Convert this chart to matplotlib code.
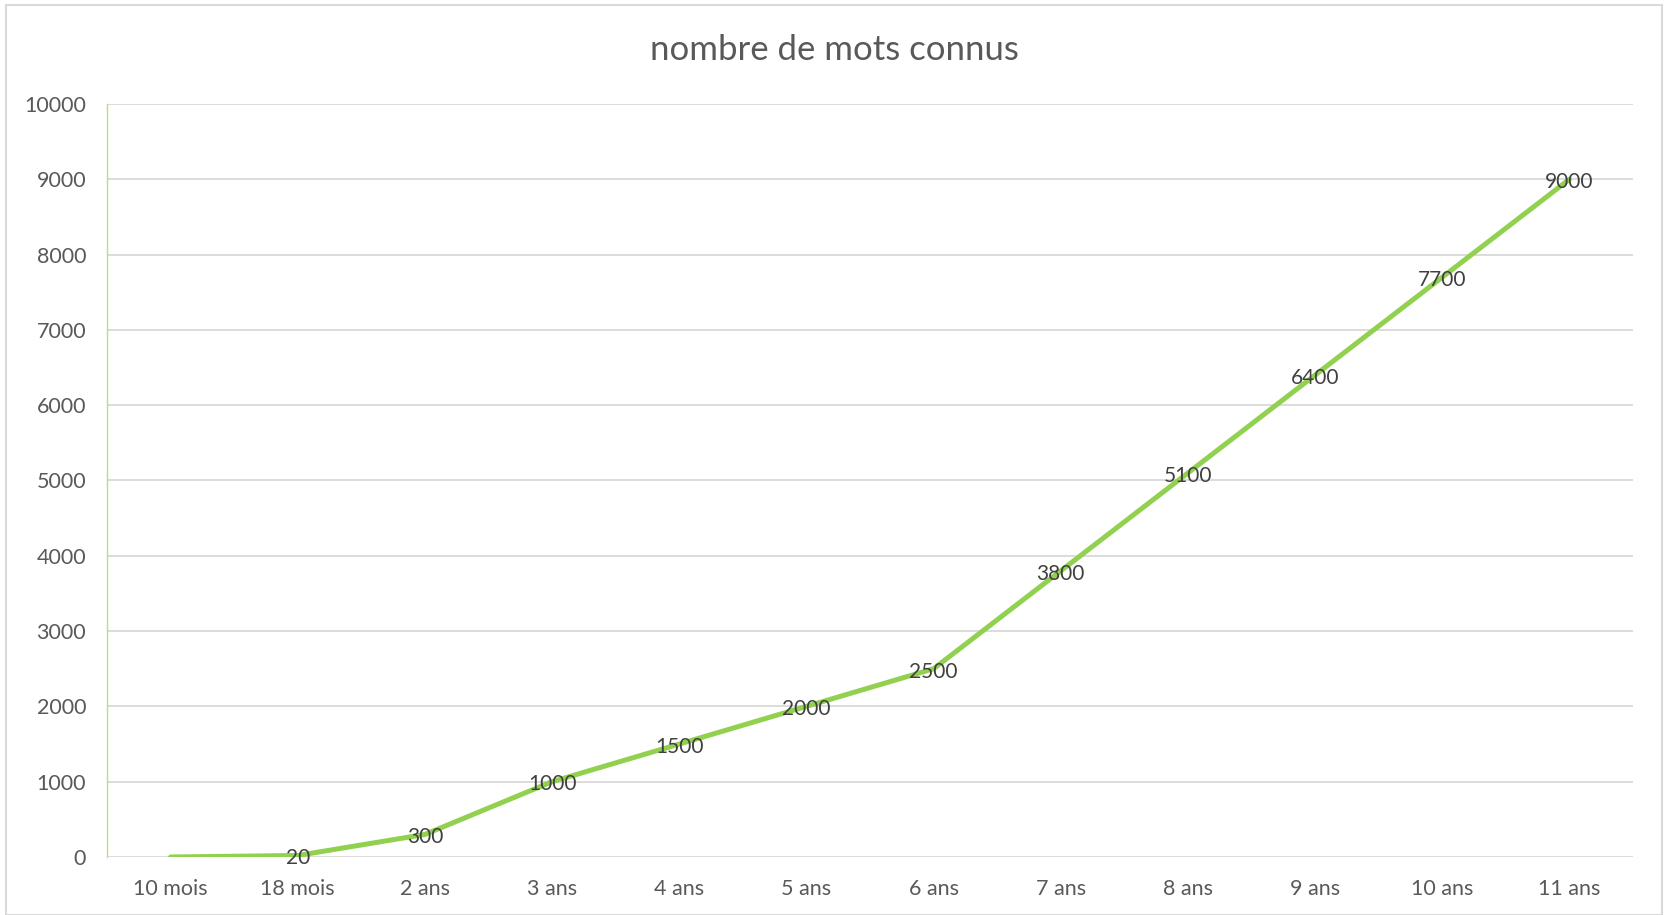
import matplotlib.pyplot as plt
from matplotlib.patches import Rectangle

ages = ["10 mois", "18 mois", "2 ans", "3 ans", "4 ans", "5 ans",
        "6 ans", "7 ans", "8 ans", "9 ans", "10 ans", "11 ans"]
mots = [0, 20, 300, 1000, 1500, 2000, 2500, 3800, 5100, 6400, 7700, 9000]
show_label = [False] + [True] * 11
yticks = list(range(0, 10001, 1000))

plt.rcParams['font.family'] = ['Lato', 'DejaVu Sans']

fig = plt.figure(figsize=(16.67, 9.15), dpi=100)
ax = fig.add_axes([107 / 1667, 1 - 857 / 915, (1633 - 107) / 1667, (857 - 104) / 915])

# chart frame
fig.patches.append(Rectangle((6 / 1667, 0), 1656 / 1667, 1 - 5 / 915,
                             transform=fig.transFigure, fill=False,
                             edgecolor="#d9d9d9", linewidth=1.5))

x = list(range(len(ages)))
ax.plot(x, mots, color="#92d050", linewidth=3.6, solid_capstyle="round", zorder=3)

# data labels centred on the points (first one has none)
for xi, v, s in zip(x, mots, show_label):
    if s:
        ax.annotate(str(v), (xi, v), xytext=(0, -2), textcoords="offset points",
                    ha="center", va="center", fontsize=15,
                    color="#404040", zorder=4)

ax.set_xlim(-0.5, len(ages) - 0.5)
ax.set_ylim(0, 10000)
ax.set_yticks(yticks)
ax.set_xticks(x)
ax.set_xticklabels(ages)
ax.grid(axis="y", color="#d9d9d9", linewidth=1.3)
ax.set_axisbelow(True)
for side in ["top", "right", "bottom"]:
    ax.spines[side].set_visible(False)
ax.spines["left"].set_color("#b4e08a")
ax.spines["left"].set_linewidth(1)
ax.tick_params(length=0, labelsize=15.5, colors="#595959")
ax.tick_params(axis="y", pad=15)
ax.tick_params(axis="x", pad=16)

fig.text(834 / 1667, 1 - 50 / 915, "nombre de mots connus", ha="center",
         va="center", fontsize=25, color="#595959")

fig.savefig("out.png", dpi=100)
